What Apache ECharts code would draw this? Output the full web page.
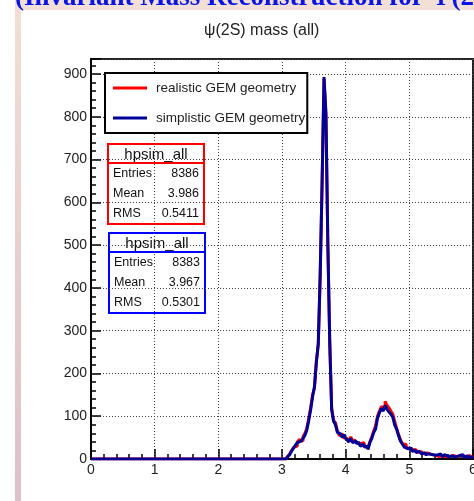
<!DOCTYPE html>
<html>
<head>
<meta charset="utf-8">
<script src="https://cdn.jsdelivr.net/npm/echarts@6/dist/echarts.min.js"></script>
<style>
  html, body { margin: 0; padding: 0; background: #fff; }
  #chart { width: 474px; height: 501px; }
</style>
</head>
<body>
<div id="chart"></div>
<script>
// histogram: 0.03 wide bins, filled from 3.00 up to 6.00
const binStart = 3.0;
const binWidth = 0.03;

const realistic = [
  0, 0, 3, 6, 12, 20, 27, 30, 40, 45,
  42, 52, 60, 72, 95, 120, 150, 165, 230, 268,
  425, 650, 888, 805, 500, 275, 120, 90, 85, 65,
  55, 58, 50, 48, 50, 42, 52, 40, 45, 38,
  36, 33, 38, 30, 26, 28, 40, 52, 65, 78,
  100, 112, 122, 120, 135, 125, 120, 112, 105, 88,
  72, 58, 45, 36, 34, 25, 26, 22, 20, 22,
  18, 16, 17, 14, 12, 14, 10, 11, 8, 9,
  10, 6, 9, 7, 8, 5, 9, 6, 4, 8,
  7, 5, 6, 9, 7, 5, 4, 8, 6, 4
];
const simplistic = [
  0, 0, 2, 5, 10, 18, 25, 32, 38, 42,
  45, 48, 55, 68, 90, 115, 145, 170, 225, 270,
  435, 645, 893, 808, 505, 270, 115, 88, 80, 62,
  58, 52, 55, 50, 45, 40, 48, 38, 42, 35,
  40, 30, 34, 28, 30, 22, 38, 48, 62, 70,
  95, 108, 118, 112, 125, 116, 110, 105, 98, 80,
  70, 55, 42, 35, 28, 24, 22, 25, 18, 20,
  15, 18, 14, 12, 15, 10, 12, 8, 10, 6,
  9, 7, 12, 8, 5, 10, 6, 4, 7, 9,
  5, 3, 8, 6, 10, 4, 7, 5, 3, 6
];

const seriesNames = ['realistic GEM geometry', 'simplistic GEM geometry'];
const statsRed = [['Entries', '8386'], ['Mean', '3.986'], ['RMS', '0.5411']];
const statsBlue = [['Entries', '8383'], ['Mean', '3.967'], ['RMS', '0.5301']];
const xTicks = [0, 1, 2, 3, 4, 5, 6];
const yTicks = [0, 100, 200, 300, 400, 500, 600, 700, 800, 900];

function toSteps(vals) {
  var pts = [[0, 0]];
  for (var i = 0; i < vals.length; i++) {
    pts.push([+(binStart + i * binWidth).toFixed(2), vals[i]]);
  }
  pts.push([6, vals[vals.length - 1]]);
  return pts;
}

function statsBox(x, y, color, rows) {
  var kids = [
    { type: 'rect', shape: { x: 0, y: 0, width: 96, height: 80 },
      style: { fill: '#fff', stroke: color, lineWidth: 2 } },
    { type: 'line', shape: { x1: 0, y1: 19, x2: 96, y2: 19 },
      style: { stroke: color, lineWidth: 2 } },
    { type: 'text', x: 48, y: 11,
      style: { text: 'hpsim_all', fontSize: 15, fill: '#111', align: 'center',
               verticalAlign: 'middle', fontFamily: 'Liberation Sans' } }
  ];
  rows.forEach(function (r, i) {
    var yy = 30 + i * 20;
    kids.push({ type: 'text', x: 5, y: yy,
      style: { text: r[0], fontSize: 12.5, fill: '#111', verticalAlign: 'middle',
               fontFamily: 'Liberation Sans' } });
    kids.push({ type: 'text', x: 91, y: yy,
      style: { text: r[1], fontSize: 12.5, fill: '#111', align: 'right',
               verticalAlign: 'middle', fontFamily: 'Liberation Sans' } });
  });
  return { type: 'group', x: x, y: y, z: 100, children: kids };
}

var chart = echarts.init(document.getElementById('chart'));

chart.setOption({
  animation: false,
  backgroundColor: '#fff',
  textStyle: { fontFamily: 'Liberation Sans' },
  title: {
    text: 'ψ(2S) mass (all)',
    left: 199, top: 18,
    textStyle: { fontSize: 16, fontWeight: 'normal', color: '#222' }
  },
  legend: {
    orient: 'vertical',
    left: 105, top: 73,
    data: seriesNames,
    icon: 'rect',
    itemWidth: 34, itemHeight: 3, itemGap: 16,
    padding: [8, 2, 8, 8],
    borderColor: '#000', borderWidth: 2, backgroundColor: '#fff',
    textStyle: { fontSize: 13.5, color: '#222', padding: [0, 0, 0, 4] }
  },
  grid: {
    left: 91, top: 59, right: 1, bottom: 42,
    containLabel: false, outerBoundsMode: 'none',
    show: true, borderColor: '#222', borderWidth: 2, backgroundColor: '#fff'
  },
  xAxis: {
    type: 'value', min: 0, max: 6, interval: 1,
    axisLine: { show: true, onZero: false, lineStyle: { color: '#000', width: 2 } },
    axisTick: { show: true, inside: true, length: 10, lineStyle: { color: '#000', width: 1.5 } },
    minorTick: { show: true, splitNumber: 5, length: 5, lineStyle: { color: '#000', width: 1.5 } },
    axisLabel: { fontSize: 14, color: '#222', margin: 4,
      formatter: function (v) { return xTicks.indexOf(v) >= 0 ? String(v) : ''; } },
    splitLine: { show: true, lineStyle: { color: '#444', type: [1, 2], width: 1 } }
  },
  yAxis: {
    type: 'value', min: 0, max: 935, interval: 100,
    axisLine: { show: true, lineStyle: { color: '#000', width: 2 } },
    axisTick: { show: true, inside: true, length: 10, lineStyle: { color: '#000', width: 1.5 } },
    minorTick: { show: true, splitNumber: 5, length: 5, lineStyle: { color: '#000', width: 1.5 } },
    axisLabel: { fontSize: 14, color: '#222', margin: 4,
      formatter: function (v) { return yTicks.indexOf(v) >= 0 ? String(v) : ''; } },
    splitLine: { show: true, lineStyle: { color: '#444', type: [1, 2], width: 1 } }
  },
  series: [
    {
      name: seriesNames[0], type: 'line', step: 'end', showSymbol: false, symbol: 'none',
      color: '#ff0000', lineStyle: { color: '#ff0000', width: 3 },
      data: toSteps(realistic), z: 3
    },
    {
      name: seriesNames[1], type: 'line', step: 'end', showSymbol: false, symbol: 'none',
      color: '#000099', lineStyle: { color: '#000099', width: 3 },
      data: toSteps(simplistic), z: 4
    }
  ],
  graphic: [
    // page decoration around the plot
    { type: 'rect', shape: { x: 15, y: 0, width: 459, height: 10 },
      style: { fill: '#f2e0d6' }, z: 1 },
    { type: 'rect', shape: { x: 15, y: 0, width: 6, height: 501 },
      style: { fill: new echarts.graphic.LinearGradient(0, 0, 0, 1, [
        { offset: 0, color: '#f2dfd3' }, { offset: 1, color: '#dcc0ca' }]) }, z: 1 },
    { type: 'text', x: 15, y: 12, z: 2,
      style: { text: '(Invariant Mass Reconstruction for Ψ(2S))', fill: '#0a14e6',
               fontSize: 27, fontWeight: 'bold', fontFamily: 'Liberation Serif',
               verticalAlign: 'bottom' } },
    statsBox(108, 144, '#ff0000', statsRed),
    statsBox(109, 233, '#0000ff', statsBlue)
  ]
});
</script>
</body>
</html>
